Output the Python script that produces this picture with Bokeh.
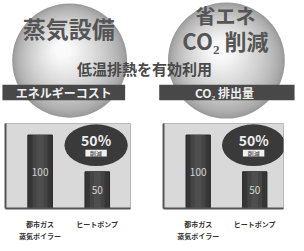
from bokeh.plotting import figure
from bokeh.layouts import column, row
from bokeh.models import Range1d, FixedTicker
from bokeh.core.properties import value
from bokeh.embed import file_html
from bokeh.resources import INLINE

# ---- data ----
categories = ["都市ガス\n蒸気ボイラー", "ヒートポンプ"]
energy_cost = [100, 50]
co2_emission = [100, 50]
reduction_text = "50%"
reduction_word = "削減"
panel_titles = ["エネルギーコスト", "CO₂ 排出量"]
header_left = "蒸気設備"
header_right = ["省エネ", "CO₂ 削減"]
subtitle = "低温排熱を有効利用"

FONT_NAME = "Noto Sans CJK JP"
FONT = value(FONT_NAME)
SX = 296 / 304
SY = 243 / 251

# ---- top header figure (image-pixel coordinates) ----
top = figure(width=296, height=121, x_range=Range1d(0, 304), y_range=Range1d(125, 0),
             output_backend="svg", toolbar_location=None, min_border=0)
top.axis.visible = False
top.grid.visible = False
top.outline_line_color = None


def sphere(cx, cy, r):
    n = 30
    xs, ys, ds, cs = [], [], [], []
    for i in range(n):
        t = i / (n - 1)
        rr = r * (1 - 0.85 * t)
        xs.append(cx - 0.12 * r * t)
        ys.append(cy - 0.18 * r * t)
        ds.append(2 * rr)
        g = int(155 + (250 - 155) * (t ** 0.7))
        cs.append("#%02x%02x%02x" % (g, g, g))
    top.ellipse(x=xs, y=ys, width=ds, height=ds, fill_color=cs, line_color=None)


sphere(71, 62, 59)
sphere(232, 62, 60)

top.text(x=[70], y=[28], text=[header_left], text_font=FONT, text_font_size="23px",
         text_font_style="bold", text_color="#555555", text_align="center", text_baseline="middle")
top.text(x=[231, 231], y=[15, 41], text=header_right, text_font=FONT,
         text_font_size=["20px", "22px"], text_font_style="bold", text_color="#555555",
         text_align="center", text_baseline="middle")
top.text(x=[148], y=[70], text=[subtitle], text_font=FONT, text_font_size="15px",
         text_font_style="bold", text_color="#4a4a4a", text_align="center", text_baseline="middle")

top.quad(left=[2, 163], right=[128, 302], top=[87, 87], bottom=[103, 103],
         fill_color="#484848", line_color=None)
top.text(x=[65, 230], y=[95, 95], text=panel_titles, text_font=FONT, text_font_size="12px",
         text_font_style="bold", text_color="#eeeeee", text_align="center", text_baseline="middle")


# ---- bar panels ----
def bar_panel(vals, b_left, frame_w, total_w, xr):
    p = figure(width=total_w, height=122, x_range=Range1d(*xr), y_range=Range1d(0, 115.7),
               output_backend="svg", toolbar_location=None,
               min_border_left=b_left, min_border_right=total_w - b_left - frame_w,
               min_border_top=2, min_border_bottom=27)
    p.grid.visible = False
    p.background_fill_color = "#d9d9d9"
    p.outline_line_color = "#b8b8b8"
    xs = [i + 0.5 for i in range(len(categories))]

    p.xaxis.ticker = FixedTicker(ticks=xs)
    p.xaxis.major_label_overrides = {x: c for x, c in zip(xs, categories)}
    p.xaxis.axis_line_color = "#555555"
    p.xaxis.axis_line_width = 2
    p.xaxis.major_tick_line_color = None
    p.xaxis.minor_tick_line_color = None
    p.xaxis.major_label_text_font = FONT_NAME
    p.xaxis.major_label_text_font_size = "7px"
    p.xaxis.major_label_text_font_style = "bold"
    p.xaxis.major_label_text_color = "#333333"
    p.xaxis.major_label_standoff = 4

    p.yaxis.ticker = FixedTicker(ticks=[])
    p.yaxis.axis_line_color = "#555555"
    p.yaxis.axis_line_width = 2
    p.yaxis.major_tick_line_color = None
    p.yaxis.minor_tick_line_color = None

    p.vbar(x=xs, top=vals, bottom=0, width=0.43, fill_color="#363636", line_color="#262626")
    p.vbar(x=xs, top=vals, bottom=0, width=0.26, fill_color="#444444", line_color=None)
    p.vbar(x=xs, top=vals, bottom=0, width=0.12, fill_color="#4e4e4e", line_color=None)
    p.text(x=xs, y=[v / 2 for v in vals], text=[str(v) for v in vals], text_font=FONT,
           text_font_size="10px", text_color="#d4d4d4", text_align="center", text_baseline="middle")

    ex = xs[1] - 0.02
    p.ellipse(x=[ex], y=[86.2], width=65 * SX, height=43 * SY, width_units="screen",
              height_units="screen", fill_color="#3a3a3a", line_color=None)
    p.text(x=[ex], y=[93.4], text=[reduction_text], text_font=FONT, text_font_size="14px",
           text_font_style="bold", text_color="#eeeeee", text_align="center", text_baseline="middle")
    p.rect(x=[ex], y=[75.3], width=22 * SX, height=7 * SY, width_units="screen",
           height_units="screen", fill_color="#f0f0f0", line_color=None)
    p.text(x=[ex], y=[75.3], text=[reduction_word], text_font=FONT, text_font_size="6px",
           text_font_style="bold", text_color="#666666", text_align="center", text_baseline="middle")
    return p


left = bar_panel(energy_cost, 5, 125, 148, (-0.106, 2.082))
right = bar_panel(co2_emission, 15, 120, 148, (-0.113, 2.008))

layout = column(top, row(left, right))
open("out.html", "w").write(file_html(layout, INLINE))
